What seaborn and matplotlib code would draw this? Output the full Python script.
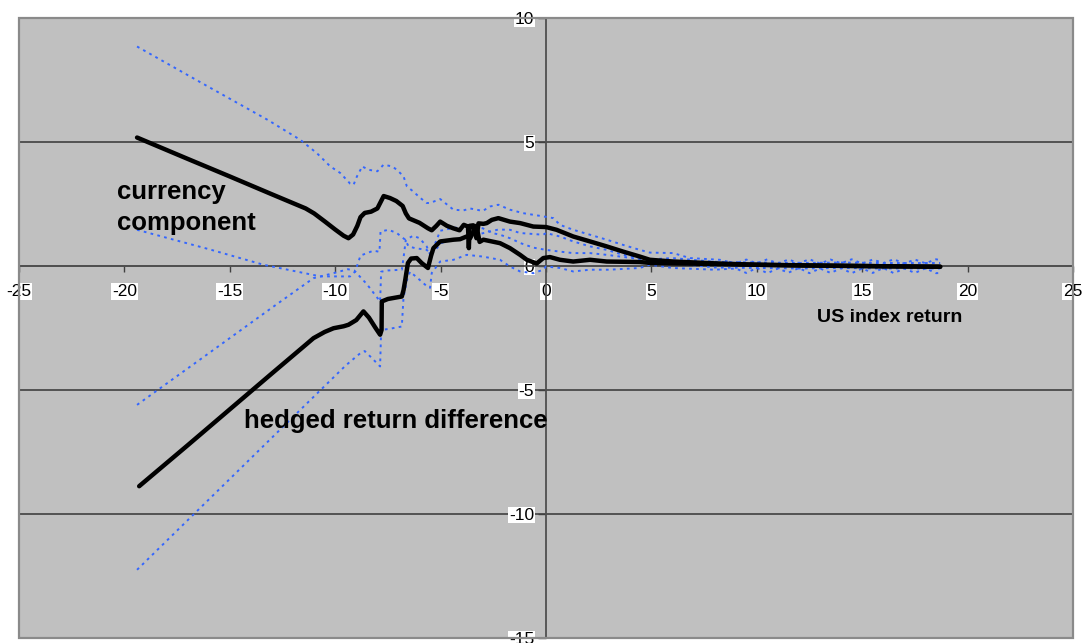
import matplotlib
matplotlib.use("Agg")
import matplotlib.pyplot as plt
from matplotlib.patches import Rectangle
import pandas as pd
import seaborn as sns

# US index return (x) vs. currency component and hedged return difference (y)
currency_x = [-19.4, -17.0, -15.0, -13.0, -11.4, -11.0, -10.5, -10.0, -9.6, -9.37, -9.15, -8.95, -8.8,
              -8.6, -8.3, -8.0, -7.85, -7.7, -7.4, -7.1, -6.8, -6.65, -6.5, -6.0, -5.6, -5.42, -5.2,
              -5.02, -4.7, -4.4, -4.1, -3.9, -3.7, -3.66, -3.62, -3.45, -3.3, -3.2, -2.97, -2.81,
              -2.57, -2.26, -1.71, -1.23, -0.6, 0.0, 0.5, 1.29, 2.09, 2.88, 3.66, 4.45, 4.93, 6.04,
              8.2, 10.0, 13.0, 16.0, 18.7]
currency_y = [5.16, 4.30, 3.59, 2.87, 2.30, 2.10, 1.78, 1.45, 1.20, 1.10, 1.25, 1.60, 1.95,
              2.12, 2.17, 2.30, 2.55, 2.80, 2.72, 2.60, 2.40, 2.10, 1.90, 1.72, 1.50, 1.42, 1.60,
              1.77, 1.60, 1.50, 1.42, 1.64, 1.57, 0.70, 1.60, 1.62, 1.10, 1.70, 1.68, 1.71,
              1.84, 1.91, 1.77, 1.71, 1.57, 1.55, 1.44, 1.17, 0.97, 0.77, 0.56, 0.36, 0.23, 0.16,
              0.08, 0.03, 0.0, -0.03, -0.05]

currency_hi_x = [-19.4, -16.0, -13.2, -11.66, -10.87, -10.24, -9.76, -9.29, -9.13, -8.97, -8.8, -8.73,
                 -8.42, -8.0, -7.71, -7.3, -7.08, -6.76, -6.6, -6.29, -6.0, -5.66, -5.5, -5.02, -4.39,
                 -3.92, -3.6, -3.0, -2.65, -2.26, -1.71, -1.08, -0.13, 0.35, 0.66, 1.29, 2.09, 2.88,
                 3.66, 4.45, 4.93, 6.04, 6.82, 8.25, 9.0, 9.5, 10.0, 10.5, 11.0, 11.5, 12.0, 12.5,
                 13.0, 13.5, 14.0, 14.5, 15.0, 15.5, 16.0, 16.5, 17.0, 17.5, 18.0, 18.5, 18.7]
currency_hi_y = [8.83, 7.20, 5.87, 5.07, 4.53, 4.00, 3.73, 3.30, 3.25, 3.59, 3.86, 4.00,
                 3.86, 3.80, 4.06, 4.00, 3.86, 3.60, 3.19, 2.98, 2.75, 2.52, 2.52, 2.68, 2.25,
                 2.22, 2.30, 2.20, 2.38, 2.45, 2.25, 2.11, 1.98, 1.91, 1.64, 1.44, 1.24, 1.04,
                 0.83, 0.63, 0.52, 0.50, 0.30, 0.23, 0.08, 0.24, 0.09, 0.25, 0.08, 0.24, 0.10, 0.25,
                 0.08, 0.24, 0.09, 0.25, 0.08, 0.24, 0.10, 0.25, 0.08, 0.24, 0.09, 0.25, 0.22]

currency_lo_x = [-19.4, -16.0, -13.4, -10.7, -9.29, -9.05, -8.8, -8.18, -7.9, -7.85, -7.47, -7.08,
                 -6.68, -6.52, -6.21, -5.66, -5.5, -5.3, -5.0, -4.4, -3.9, -3.5, -3.0, -2.26, -1.71,
                 -1.23, -0.13, 0.0, 0.66, 1.29, 2.09, 2.88, 3.66, 4.45, 5.0, 6.0, 8.0, 10.0, 12.0,
                 14.0, 16.0, 18.7]
currency_lo_y = [1.44, 0.66, 0.03, -0.44, -0.44, -0.24, 0.40, 0.60, 0.55, 1.37, 1.44, 1.31,
                 1.04, 0.77, 0.70, 0.63, 0.50, 0.55, 0.90, 1.05, 1.10, 1.20, 1.30, 1.45, 1.44,
                 1.31, 1.24, 1.31, 1.17, 0.97, 0.77, 0.63, 0.43, 0.30, 0.20, 0.10, -0.08, -0.10, -0.12,
                 -0.10, -0.12, -0.12]

hedged_x = [-19.3, -17.0, -15.0, -13.0, -11.5, -11.03, -10.5, -10.08, -9.6, -9.37, -9.0, -8.66,
            -8.4, -8.1, -7.87, -7.8, -7.79, -7.5, -6.84, -6.76, -6.68, -6.55, -6.4, -6.13, -5.9,
            -5.6, -5.45, -5.34, -5.02, -4.39, -4.08, -3.76, -3.6, -3.3, -3.15, -2.97, -2.57,
            -2.18, -1.71, -1.23, -0.91, -0.44, -0.13, 0.19, 0.66, 1.29, 2.09, 2.88, 4.45, 5.0,
            8.0, 12.0, 18.7]
hedged_y = [-8.9, -7.25, -5.80, -4.35, -3.27, -2.93, -2.68, -2.53, -2.45, -2.39, -2.20, -1.85,
            -2.10, -2.50, -2.79, -2.60, -1.45, -1.35, -1.25, -1.00, -0.60, 0.10, 0.28, 0.30, 0.10,
            -0.10, 0.40, 0.70, 0.97, 1.04, 1.06, 1.17, 1.10, 1.60, 0.95, 1.04, 0.97,
            0.90, 0.70, 0.43, 0.23, 0.08, 0.30, 0.34, 0.23, 0.16, 0.23, 0.16, 0.14, 0.10,
            0.06, 0.0, -0.05]

hedged_hi_x = [-19.4, -16.0, -13.0, -11.03, -10.08, -9.4, -9.1, -8.5, -7.87, -7.82, -7.5, -6.84,
               -6.76, -6.65, -6.3, -6.0, -5.66, -5.5, -5.2, -5.02, -4.5, -4.0, -3.6, -3.0, -2.5,
               -2.18, -1.71, -1.2, -0.6, 0.0, 0.66, 1.29, 2.09, 2.88, 4.45, 5.0, 6.0, 8.0, 10.0,
               12.0, 14.0, 16.0, 18.7]
hedged_hi_y = [-5.62, -3.54, -1.70, -0.51, -0.31, -0.15, -0.20, -0.75, -1.45, -0.25, -0.20, -0.17,
               0.30, 1.04, 1.20, 1.10, 0.77, 0.45, 1.00, 1.40, 1.50, 1.55, 1.60, 1.50, 1.30,
               1.24, 1.10, 0.90, 0.72, 0.63, 0.56, 0.50, 0.50, 0.43, 0.26, 0.25, 0.30, 0.15, 0.12,
               0.10, 0.12, 0.10, 0.10]

hedged_lo_x = [-19.4, -16.0, -13.0, -10.5, -9.5, -8.8, -8.6, -8.3, -7.87, -7.82, -7.4, -6.84,
               -6.76, -6.6, -6.45, -6.1, -5.7, -5.5, -5.42, -5.02, -4.39, -3.76, -3.0, -2.18,
               -1.71, -1.23, -0.6, -0.13, 0.0, 0.66, 1.29, 2.09, 3.0, 4.45, 4.93, 6.0, 8.0, 9.0,
               9.5, 10.0, 10.5, 11.0, 11.5, 12.0, 12.5, 13.0, 13.5, 14.0, 14.5, 15.0, 15.5, 16.0,
               16.5, 17.0, 17.5, 18.0, 18.5, 18.7]
hedged_lo_y = [-12.27, -9.44, -6.94, -4.86, -4.03, -3.53, -3.45, -3.70, -4.07, -2.60, -2.55, -2.46,
               -1.30, -0.60, -0.25, -0.50, -0.80, -0.90, -0.30, 0.16, 0.23, 0.43, 0.36, 0.23,
               -0.04, -0.24, -0.31, -0.17, -0.04, -0.10, -0.24, -0.17, -0.17, -0.10, 0.03, -0.10,
               -0.17, -0.12, -0.30, -0.10, -0.31, -0.12, -0.29, -0.10, -0.31, -0.12, -0.30, -0.11,
               -0.31, -0.12, -0.30, -0.10, -0.31, -0.12, -0.30, -0.11, -0.31, -0.30]

x_ticks = [-25, -20, -15, -10, -5, 0, 5, 10, 15, 20, 25]
y_ticks = [-15, -10, -5, 0, 5, 10]

sns.set_style("white")
plt.rcParams["font.family"] = ["Liberation Sans", "DejaVu Sans"]
plt.rcParams["axes.unicode_minus"] = False
plt.rcParams["text.color"] = "black"
plt.rcParams["xtick.labelcolor"] = "black"
plt.rcParams["ytick.labelcolor"] = "black"

fig = plt.figure(figsize=(10.84, 6.43), dpi=100)
fig.patch.set_facecolor("white")
ax = fig.add_axes([19 / 1084, 1 - 637.5 / 643, (1073 - 19) / 1084, (637.5 - 17.5) / 643])
ax.set_facecolor("#c0c0c0")

blue = "#3366ff"
bands = [
    (currency_hi_x, currency_hi_y), (currency_lo_x, currency_lo_y),
    (hedged_hi_x, hedged_hi_y), (hedged_lo_x, hedged_lo_y),
]
for bx, by in bands:
    sns.lineplot(data=pd.DataFrame({"x": bx, "y": by}), x="x", y="y", sort=False,
                 estimator=None, color=blue, lw=1.4, ax=ax, zorder=3,
                 linestyle=(0, (1.4, 2.2)))

for mx, my in [(currency_x, currency_y), (hedged_x, hedged_y)]:
    sns.lineplot(data=pd.DataFrame({"x": mx, "y": my}), x="x", y="y", sort=False,
                 estimator=None, color="black", lw=3.2, ax=ax, zorder=4,
                 solid_capstyle="round", solid_joinstyle="round")

ax.set_xlim(-25, 25)
ax.set_ylim(-15, 10)
ax.set_xticks(x_ticks)
ax.set_yticks(y_ticks)
ax.set_xlabel("")
ax.set_ylabel("")

# axes crossing at the origin
for side in ["top", "right"]:
    ax.spines[side].set_visible(False)
for side in ["left", "bottom"]:
    ax.spines[side].set_position(("data", 0))
    ax.spines[side].set_color("#505050")
    ax.spines[side].set_linewidth(1.3)
    ax.spines[side].set_zorder(2)

ax.grid(axis="y", color="#4a4a4a", lw=1.3, zorder=1)
ax.grid(axis="x", visible=False)
ax.set_axisbelow(True)

ax.add_patch(Rectangle((0, 0), 1, 1, transform=ax.transAxes, fill=False,
                       edgecolor="#8a8a8a", lw=1.6, clip_on=False, zorder=5))

ax.tick_params(axis="x", direction="out", length=4, width=1, color="#404040",
               labelsize=12.5, pad=9.5, bottom=True)
ax.tick_params(axis="y", direction="out", length=6, width=1, color="#404040",
               labelsize=12.5, pad=2.5, left=True)
for lbl in ax.get_xticklabels() + ax.get_yticklabels():
    lbl.set_bbox(dict(facecolor="white", edgecolor="none", pad=0.6))

ax.text(-20.33, 2.69, "currency", fontsize=18.5, fontweight="bold", ha="left", va="baseline")
ax.text(-20.33, 1.44, "component", fontsize=18.5, fontweight="bold", ha="left", va="baseline")
ax.text(-14.35, -6.56, "hedged return difference", fontsize=18.5, fontweight="bold",
        ha="left", va="baseline")
ax.text(12.84, -2.11, "US index return", fontsize=14, fontweight="bold", ha="left", va="center")

fig.savefig("out.png", dpi=100, facecolor="white")
